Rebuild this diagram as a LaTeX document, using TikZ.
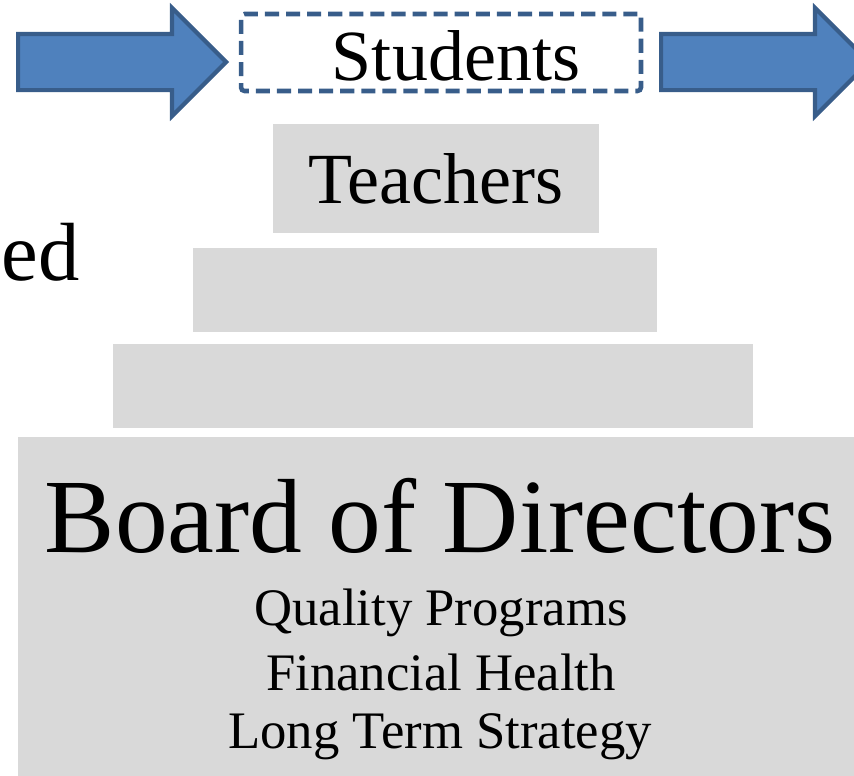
\documentclass[tikz,border=0pt]{standalone}
\usepackage{fontspec}
\setmainfont{Liberation Serif}
\usetikzlibrary{shapes.arrows}
\definecolor{tiergray}{HTML}{D9D9D9}
\definecolor{arrowfill}{HTML}{4F81BD}
\definecolor{arrowedge}{HTML}{385D8A}
\newcommand{\fs}[1]{\fontsize{#1}{#1}\selectfont}
\begin{document}
\begin{tikzpicture}[
    x=0.02cm, y=-0.02cm,
    tier/.style={rectangle, draw=none, fill=tiergray, inner sep=0pt},
    bigarrow/.style={single arrow, draw=arrowedge, fill=arrowfill, line width=2.4pt,
        minimum height=4.16cm, inner xsep=0pt, inner ysep=0.52cm,
        single arrow head extend=0.52cm, single arrow head indent=0pt, anchor=tail},
    dashbox/.style={rectangle, draw=arrowedge, fill=white, line width=2.6pt,
        dash pattern=on 8pt off 4pt, rounded corners=2pt,
        minimum width=8cm, minimum height=1.54cm, inner sep=0pt},
    txt/.style={inner sep=0pt, anchor=base}
]
\clip (0,0) rectangle (854,775);

% Top row
\node[bigarrow] (larr) at (16,62) {};
\node[dashbox] (studbox) at (441,52.5) {};
\node[txt, font=\fs{41pt}] (stud) at (456,80) {Students};
\node[bigarrow] (rarr) at (659,62) {};

% Pyramid tiers
\node[tier, minimum width=6.52cm, minimum height=2.18cm, font=\fs{41pt}] (teach) at (436,178.5) {Teachers};
\node[tier, minimum width=9.28cm, minimum height=1.68cm] (tier3) at (425,290) {};
\node[tier, minimum width=12.8cm, minimum height=1.68cm] (tier4) at (433,386) {};
\node[tier, minimum width=17.24cm, minimum height=7.26cm] (board) at (449,618.5) {};

% Board text
\node[txt, font=\fs{60pt}] (boardtitle) at (440,552) {Board of Directors};
\node[txt, font=\fs{30pt}] (quality) at (441,625) {Quality Programs};
\node[txt, font=\fs{30pt}] (finance) at (441,690) {Financial Health};
\node[txt, font=\fs{30pt}] (strategy) at (440,748) {Long Term Strategy};

% Cut-off text at left
\node[inner sep=0pt, anchor=base east, font=\fs{47pt}] (ed) at (80,280) {ed};

\end{tikzpicture}
\end{document}
